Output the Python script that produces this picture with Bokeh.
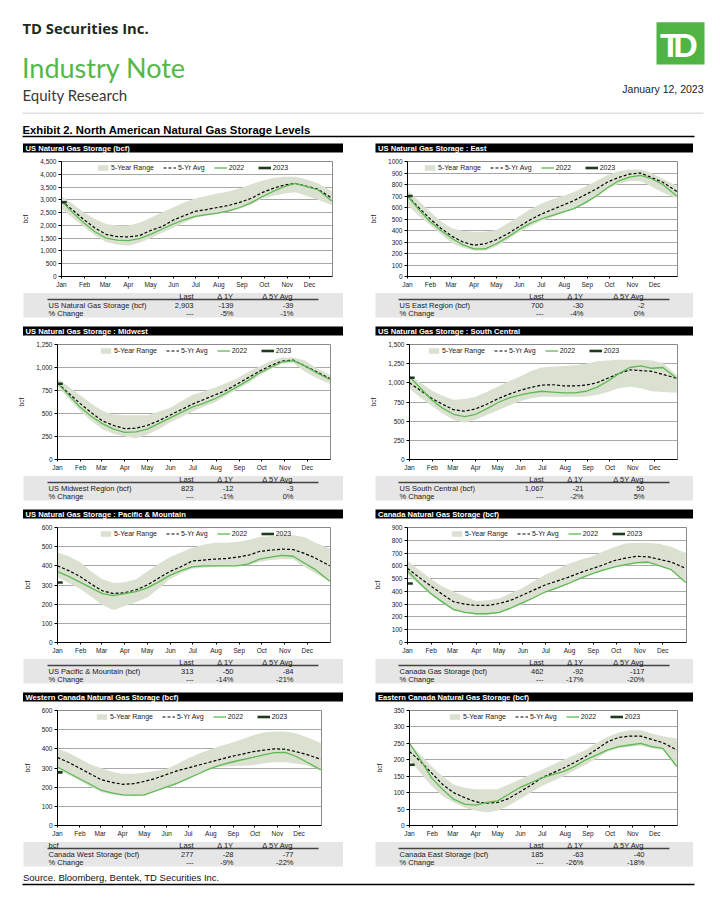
from bokeh.plotting import figure
from bokeh.layouts import column, row
from bokeh.models import Range1d, Legend, LegendItem, FixedTicker, NumeralTickFormatter
from bokeh.core.properties import value
from bokeh.embed import file_html
from bokeh.resources import INLINE

# ---------------- data ----------------
DAYS = [0, 15, 30, 45, 60, 75, 90, 105, 120, 135, 150, 165, 180, 195, 210, 225,
        240, 255, 270, 285, 300, 315, 330, 345, 364]
DAYS_2023 = [0, 7]
MONTH_STARTS = [0, 31, 59, 90, 120, 151, 181, 212, 243, 273, 304, 334]
MONTH_LABELS = ["Jan", "Feb", "Mar", "Apr", "May", "Jun", "Jul", "Aug", "Sep", "Oct", "Nov", "Dec"]

US_LOW = [2650, 2300, 1950, 1600, 1350, 1250, 1200, 1320, 1500, 1700, 1900, 2100, 2300, 2380, 2450, 2530, 2650, 2800, 3050, 3150, 3250, 3300, 3150, 3000, 2800]
US_HIGH = [3150, 2850, 2500, 2250, 2050, 2000, 2000, 2100, 2300, 2500, 2700, 2900, 3050, 3150, 3250, 3330, 3450, 3600, 3750, 3850, 3900, 3900, 3800, 3650, 3350]
US_AVG = [2950, 2600, 2230, 1900, 1650, 1560, 1550, 1600, 1800, 1950, 2200, 2380, 2550, 2620, 2700, 2780, 2900, 3050, 3280, 3450, 3580, 3640, 3530, 3420, 3070]
US_2022 = [2950, 2500, 2100, 1750, 1500, 1420, 1400, 1480, 1650, 1850, 2050, 2220, 2350, 2420, 2480, 2570, 2700, 2880, 3120, 3330, 3520, 3640, 3520, 3400, 2950]
US_2023 = [2903, 2903]
US_YTICKS = [0, 500, 1000, 1500, 2000, 2500, 3000, 3500, 4000, 4500]
US_TABLE = ["US Natural Gas Storage (bcf)", "2,903", "-139", "-39"]
US_PCT = ["% Change", "---", "-5%", "-1%"]

EAST_LOW = [620, 530, 450, 370, 290, 250, 225, 225, 260, 320, 380, 435, 480, 515, 555, 595, 630, 690, 760, 805, 830, 830, 780, 730, 680]
EAST_HIGH = [750, 660, 565, 480, 420, 395, 390, 390, 405, 460, 520, 580, 630, 670, 700, 735, 780, 830, 880, 915, 930, 930, 900, 850, 790]
EAST_AVG = [700, 600, 505, 420, 350, 300, 272, 285, 320, 370, 430, 490, 540, 580, 620, 660, 710, 760, 820, 860, 890, 900, 860, 820, 740]
EAST_2022 = [700, 585, 480, 400, 330, 275, 240, 240, 285, 340, 405, 460, 500, 530, 560, 590, 640, 700, 770, 830, 865, 880, 850, 800, 700]
EAST_2023 = [700, 700]
EAST_YTICKS = [0, 100, 200, 300, 400, 500, 600, 700, 800, 900, 1000]
EAST_TABLE = ["US East Region (bcf)", "700", "-30", "-2"]
EAST_PCT = ["% Change", "---", "-4%", "0%"]

MW_LOW = [800, 660, 530, 420, 330, 280, 250, 230, 270, 330, 400, 460, 520, 570, 620, 690, 760, 830, 910, 980, 1040, 1050, 960, 890, 820]
MW_HIGH = [880, 790, 700, 610, 530, 490, 480, 480, 480, 520, 560, 630, 700, 740, 780, 830, 880, 950, 1010, 1070, 1110, 1110, 1080, 1000, 920]
MW_AVG = [830, 720, 610, 510, 420, 370, 335, 340, 370, 420, 480, 540, 600, 650, 700, 750, 820, 890, 960, 1020, 1070, 1080, 1020, 960, 880]
MW_2022 = [830, 700, 570, 470, 390, 330, 295, 300, 330, 390, 450, 510, 570, 610, 660, 720, 790, 860, 940, 1000, 1060, 1075, 1020, 950, 870]
MW_2023 = [823, 823]
MW_YTICKS = [0, 250, 500, 750, 1000, 1250]
MW_TABLE = ["US Midwest Region (bcf)", "823", "-12", "-3"]
MW_PCT = ["% Change", "---", "-1%", "0%"]

SC_LOW = [920, 810, 700, 600, 520, 480, 520, 580, 640, 700, 760, 800, 820, 820, 820, 820, 820, 840, 880, 930, 950, 930, 890, 880, 870]
SC_HIGH = [1100, 1000, 900, 830, 780, 790, 820, 880, 950, 1020, 1080, 1150, 1200, 1210, 1220, 1230, 1250, 1280, 1290, 1300, 1300, 1300, 1290, 1260, 1100]
SC_AVG = [1000, 900, 800, 720, 650, 630, 660, 720, 790, 850, 900, 940, 970, 975, 960, 960, 970, 1000, 1060, 1120, 1170, 1160, 1150, 1110, 1060]
SC_2022 = [1080, 930, 780, 670, 590, 560, 590, 660, 740, 800, 840, 870, 890, 880, 870, 870, 890, 940, 1020, 1120, 1200, 1220, 1190, 1200, 1060]
SC_2023 = [1067, 1067]
SC_YTICKS = [0, 250, 500, 750, 1000, 1250, 1500]
SC_TABLE = ["US South Central (bcf)", "1,067", "-21", "50"]
SC_PCT = ["% Change", "---", "-2%", "5%"]

PM_LOW = [340, 310, 280, 240, 195, 170, 190, 210, 235, 280, 330, 360, 385, 390, 395, 398, 400, 405, 420, 430, 435, 435, 395, 360, 320]
PM_HIGH = [470, 450, 420, 370, 330, 310, 315, 330, 370, 410, 445, 470, 495, 510, 520, 520, 525, 535, 550, 555, 560, 560, 550, 520, 490]
PM_AVG = [400, 375, 345, 305, 270, 255, 260, 275, 300, 335, 370, 395, 425, 430, 435, 438, 445, 455, 475, 482, 487, 485, 465, 440, 400]
PM_2022 = [370, 345, 315, 285, 255, 245, 255, 265, 285, 315, 350, 375, 395, 400, 400, 400, 400, 410, 435, 445, 455, 450, 415, 380, 320]
PM_2023 = [313, 313]
PM_YTICKS = [0, 100, 200, 300, 400, 500, 600]
PM_TABLE = ["US Pacific & Mountain (bcf)", "313", "-50", "-84"]
PM_PCT = ["% Change", "---", "-14%", "-21%"]

CA_LOW = [530, 455, 375, 310, 250, 230, 220, 220, 230, 260, 300, 345, 395, 425, 460, 495, 530, 560, 590, 605, 615, 615, 595, 570, 480]
CA_HIGH = [640, 570, 500, 440, 400, 360, 325, 330, 345, 385, 425, 480, 530, 570, 615, 645, 670, 710, 745, 775, 780, 780, 770, 750, 700]
CA_AVG = [580, 510, 445, 380, 320, 300, 290, 290, 305, 330, 370, 410, 450, 480, 510, 545, 575, 605, 640, 660, 675, 670, 650, 630, 580]
CA_2022 = [560, 470, 385, 320, 260, 235, 225, 225, 235, 270, 310, 350, 395, 425, 460, 500, 535, 565, 590, 610, 625, 630, 600, 570, 470]
CA_2023 = [462, 462]
CA_YTICKS = [0, 100, 200, 300, 400, 500, 600, 700, 800, 900]
CA_TABLE = ["Canada Gas Storage (bcf)", "462", "-92", "-117"]
CA_PCT = ["% Change", "---", "-17%", "-20%"]

WC_LOW = [290, 265, 235, 205, 175, 162, 155, 152, 155, 175, 195, 215, 245, 270, 295, 305, 310, 312, 315, 325, 330, 330, 322, 315, 290]
WC_HIGH = [400, 380, 350, 320, 300, 280, 270, 270, 275, 285, 295, 320, 350, 375, 395, 415, 430, 450, 470, 485, 490, 490, 480, 460, 430]
WC_AVG = [355, 330, 300, 270, 240, 225, 215, 218, 230, 245, 265, 285, 300, 315, 330, 345, 360, 372, 385, 393, 400, 398, 385, 370, 345]
WC_2022 = [305, 275, 245, 215, 185, 170, 160, 158, 160, 180, 200, 220, 245, 270, 295, 315, 330, 343, 355, 368, 380, 382, 360, 330, 290]
WC_2023 = [277, 277]
WC_YTICKS = [0, 100, 200, 300, 400, 500, 600]
WC_TABLE = ["Canada West Storage (bcf)", "277", "-28", "-77"]
WC_PCT = ["% Change", "---", "-9%", "-22%"]

EC_LOW = [200, 160, 120, 90, 70, 55, 45, 40, 45, 60, 80, 100, 120, 135, 150, 168, 185, 205, 225, 235, 240, 243, 235, 230, 175]
EC_HIGH = [250, 215, 180, 150, 125, 115, 110, 110, 110, 125, 140, 155, 170, 185, 200, 215, 230, 252, 270, 283, 290, 290, 280, 272, 265]
EC_AVG = [225, 195, 160, 125, 100, 85, 72, 68, 70, 82, 102, 122, 145, 160, 175, 192, 210, 232, 255, 268, 272, 272, 262, 252, 230]
EC_2022 = [250, 200, 145, 110, 80, 65, 62, 70, 75, 95, 115, 130, 145, 155, 165, 180, 200, 215, 230, 240, 245, 250, 240, 235, 180]
EC_2023 = [185, 185]
EC_YTICKS = [0, 50, 100, 150, 200, 250, 300, 350]
EC_TABLE = ["Canada East Storage (bcf)", "185", "-63", "-40"]
EC_PCT = ["% Change", "---", "-26%", "-18%"]

TABLE_HEAD = ["Last", "\u0394 1Y", "\u0394 5Y Avg"]

# ---------------- style / layout ----------------
FONT = "Liberation Sans"
GREEN_TD = "#54b848"
BAND = "#dbe1d0"
LINE22 = "#5db952"
LINE23 = "#1e3a1e"

CHARTS = [
    dict(title="US Natural Gas Storage (bcf)", low=US_LOW, high=US_HIGH, avg=US_AVG, y22=US_2022, y23=US_2023,
         yt=US_YTICKS, fmt="0,0", table=US_TABLE, pct=US_PCT, head="", frame=(61, 332), leg=35),
    dict(title="US Natural Gas Storage : East", low=EAST_LOW, high=EAST_HIGH, avg=EAST_AVG, y22=EAST_2022, y23=EAST_2023,
         yt=EAST_YTICKS, fmt="0", table=EAST_TABLE, pct=EAST_PCT, head="", frame=(407, 677), leg=16),
    dict(title="US Natural Gas Storage : Midwest", low=MW_LOW, high=MW_HIGH, avg=MW_AVG, y22=MW_2022, y23=MW_2023,
         yt=MW_YTICKS, fmt="0,0", table=MW_TABLE, pct=MW_PCT, head="", frame=(57, 330), leg=42),
    dict(title="US Natural Gas Storage : South Central", low=SC_LOW, high=SC_HIGH, avg=SC_AVG, y22=SC_2022, y23=SC_2023,
         yt=SC_YTICKS, fmt="0,0", table=SC_TABLE, pct=SC_PCT, head="", frame=(409, 677), leg=18),
    dict(title="US Natural Gas Storage : Pacific & Mountain", low=PM_LOW, high=PM_HIGH, avg=PM_AVG, y22=PM_2022, y23=PM_2023,
         yt=PM_YTICKS, fmt="0,0", table=PM_TABLE, pct=PM_PCT, head="", frame=(57, 330), leg=42),
    dict(title="Canada Natural Gas Storage (bcf)", low=CA_LOW, high=CA_HIGH, avg=CA_AVG, y22=CA_2022, y23=CA_2023,
         yt=CA_YTICKS, fmt="0,0", table=CA_TABLE, pct=CA_PCT, head="", frame=(407, 686), leg=43),
    dict(title="Western Canada Natural Gas Storage (bcf)", low=WC_LOW, high=WC_HIGH, avg=WC_AVG, y22=WC_2022, y23=WC_2023,
         yt=WC_YTICKS, fmt="0,0", table=WC_TABLE, pct=WC_PCT, head="bcf", frame=(57, 321), leg=38),
    dict(title="Eastern Canada Natural Gas Storage (bcf)", low=EC_LOW, high=EC_HIGH, avg=EC_AVG, y22=EC_2022, y23=EC_2023,
         yt=EC_YTICKS, fmt="0,0", table=EC_TABLE, pct=EC_PCT, head="", frame=(409, 677), leg=39),
]

PANEL_W = (360, 352)      # left panel spans page x 0..360, right 360..712
PANEL_X0 = (0, 360)
TITLE_H = 17
CHART_H = 135
TABLE_H = 31
CB_TOP, CB_BOTTOM = 5, 15


def blank(w, h):
    p = figure(width=w, height=h, x_range=Range1d(0, w), y_range=Range1d(h, 0),
               x_axis_type=None, y_axis_type=None, min_border=0,
               toolbar_location=None, output_backend="svg")
    p.outline_line_color = None
    p.background_fill_color = "white"
    p.border_fill_color = "white"
    return p


def txt(p, x, y, s, size, color="#1a1a1a", font=FONT, style="normal", align="left", baseline="middle"):
    p.text(x=[x], y=[y], text=[s], text_font=value(font), text_font_size=value(f"{size}px"),
           text_font_style=value(style), text_color=color, text_align=value(align),
           text_baseline=value(baseline))


def title_fig(spec, side):
    p = blank(PANEL_W[side], TITLE_H)
    x0, x1 = (22.5, 342.5) if side == 0 else (15, 332.5)
    p.quad(left=[x0], right=[x1], top=[4], bottom=[13], fill_color="black", line_color=None)
    txt(p, x0 + 2.5, 8.6, spec["title"], 7.6, color="white", style="bold")
    return p


def chart_fig(spec, side):
    fl, fr = spec["frame"]
    bl = fl - PANEL_X0[side]
    br = PANEL_X0[side] + PANEL_W[side] - fr
    ymax = spec["yt"][-1]
    p = figure(width=PANEL_W[side], height=CHART_H, x_range=Range1d(0, 365), y_range=Range1d(0, ymax),
               min_border_left=bl, min_border_right=br, min_border_top=CB_TOP, min_border_bottom=CB_BOTTOM,
               toolbar_location=None, output_backend="svg")
    p.background_fill_color = "white"
    p.border_fill_color = "white"
    p.outline_line_color = "#8a8a8a"
    p.outline_line_width = 1
    p.xgrid.visible = False
    p.ygrid.grid_line_color = "#a8a8a8"
    p.ygrid.grid_line_width = 1

    rb = p.varea(x=DAYS, y1=spec["low"], y2=spec["high"], fill_color=BAND)
    ra = p.line(DAYS, spec["avg"], line_color="black", line_width=1.2, line_dash="3 2")
    r22 = p.line(DAYS, spec["y22"], line_color=LINE22, line_width=1.3)
    r23 = p.line(DAYS_2023, spec["y23"], line_color=LINE23, line_width=2.6)

    p.xaxis.ticker = FixedTicker(ticks=MONTH_STARTS)
    p.xaxis.major_label_overrides = {m: l for m, l in zip(MONTH_STARTS, MONTH_LABELS)}
    p.yaxis.ticker = FixedTicker(ticks=spec["yt"])
    p.yaxis.formatter = NumeralTickFormatter(format=spec["fmt"])
    for ax in (p.xaxis[0], p.yaxis[0]):
        ax.axis_line_color = "black"
        ax.axis_line_width = 1
        ax.major_tick_line_color = "black"
        ax.major_tick_in = 0
        ax.minor_tick_line_color = None
        ax.major_label_text_font = FONT
        ax.major_label_text_font_size = "6.5px"
        ax.major_label_text_color = "#222222"
    p.xaxis.major_tick_out = 2
    p.xaxis.major_label_standoff = 2
    p.yaxis.major_tick_out = 3
    p.yaxis.major_label_standoff = 2
    p.yaxis.axis_label = "bcf"
    p.yaxis.axis_label_text_font = FONT
    p.yaxis.axis_label_text_font_size = "6.5px"
    p.yaxis.axis_label_text_font_style = "normal"
    p.yaxis.axis_label_text_color = "#222222"
    p.yaxis.axis_label_standoff = 8

    frame_h = CHART_H - CB_TOP - CB_BOTTOM
    leg = Legend(items=[LegendItem(label="5-Year Range", renderers=[rb]),
                        LegendItem(label="5-Yr Avg", renderers=[ra]),
                        LegendItem(label="2022", renderers=[r22]),
                        LegendItem(label="2023", renderers=[r23])],
                 orientation="horizontal", location=(spec["leg"], frame_h - 9.5),
                 padding=0, margin=0, spacing=9, glyph_width=13, glyph_height=7,
                 label_height=7, label_standoff=2, label_text_font=FONT,
                 label_text_font_size="7px", label_text_color="#1a1a1a",
                 background_fill_alpha=0, border_line_alpha=0)
    p.add_layout(leg)
    return p


def table_fig(spec, side):
    p = blank(PANEL_W[side], TABLE_H)
    if side == 0:
        x0, x1, lx, l0, l1, cols = 23, 342.5, 48, 47, 318, [193, 233, 293]
    else:
        x0, x1, lx, l0, l1, cols = 15, 332.5, 39, 38, 309, [183, 223, 284]
    p.quad(left=[x0], right=[x1], top=[1.6], bottom=[26], fill_color="#e6e6e6", line_color=None)
    p.segment(x0=[l0], y0=[8], x1=[l1], y1=[8], line_color="#444444", line_width=1.4)
    if spec["head"]:
        txt(p, lx, 4.6, spec["head"], 7.5)
    for c, h in zip(cols, TABLE_HEAD):
        txt(p, c, 4.6, h, 7.5, align="right")
    txt(p, lx, 14, spec["table"][0], 7.5)
    for c, v in zip(cols, spec["table"][1:]):
        txt(p, c, 14, v, 7.5, align="right")
    txt(p, lx, 22, spec["pct"][0], 7.5)
    for c, v in zip(cols, spec["pct"][1:]):
        txt(p, c, 22, v, 7.5, align="right")
    return p


# ---------------- header ----------------
header = blank(712, 139)
txt(header, 22, 27.5, "TD Securities Inc.", 14.8, color="#1c2a1c", font="Open Sans", style="bold")
txt(header, 21.5, 67, "Industry Note", 27, color=GREEN_TD, font="Lato")
txt(header, 22, 94.7, "Equity Research", 15, color="#3a3a3a", font="Lato")
header.segment(x0=[22], y0=[112.7], x1=[703], y1=[112.7], line_color="#cfcfcf", line_width=1)
header.quad(left=[656], right=[704], top=[21.7], bottom=[64], fill_color="#4fb443", line_color=None)
txt(header, 670, 44, "T", 34, color="white", style="bold", align="center")
txt(header, 685, 44, "D", 34, color="white", style="bold", align="center")
txt(header, 703, 88.5, "January 12, 2023", 10.5, color="#222222", align="right")
txt(header, 22, 129.3, "Exhibit 2. North American Natural Gas Storage Levels", 11.3, color="black", style="bold")
header.segment(x0=[22], y0=[136], x1=[694], y1=[136], line_color="black", line_width=1.5)

# ---------------- footer ----------------
footer = blank(712, 21)
txt(footer, 22.5, 5.8, "Source. Bloomberg, Bentek, TD Securities Inc.", 9.5, color="#111111")
footer.segment(x0=[22], y0=[13], x1=[694], y1=[13], line_color="black", line_width=1.3)

rows = []
for i in range(0, 8, 2):
    panels = []
    for side in (0, 1):
        spec = CHARTS[i + side]
        panels.append(column(row(title_fig(spec, side)), row(chart_fig(spec, side)),
                             row(table_fig(spec, side)), spacing=0))
    rows.append(row(*panels, spacing=0))

layout = column(header, *rows, footer, spacing=0)

open("out.html", "w").write(file_html(layout, INLINE))
